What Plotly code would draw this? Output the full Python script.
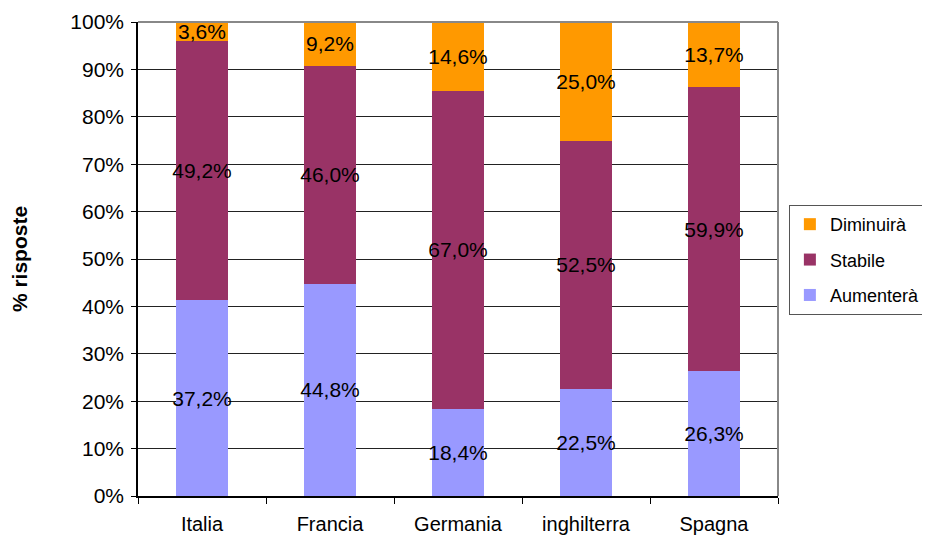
import plotly.graph_objects as go

categories = ["Italia", "Francia", "Germania", "inghilterra", "Spagna"]
aumentera = [37.2, 44.8, 18.4, 22.5, 26.3]
stabile = [49.2, 46.0, 67.0, 52.5, 59.9]
diminuira = [3.6, 9.2, 14.6, 25.0, 13.7]

series = [
    ("Aumenterà", aumentera, "#9999FF", 3),
    ("Stabile", stabile, "#993366", 2),
    ("Diminuirà", diminuira, "#FF9900", 1),
]

def fmt(v):
    return f"{v:.1f}%".replace(".", ",")

FONT = "Liberation Sans, Arial, sans-serif"

fig = go.Figure()
for name, vals, color, rank in series:
    fig.add_trace(go.Bar(
        name=name, x=categories, y=vals,
        marker=dict(color=color, line=dict(width=0)),
        text=[fmt(v) for v in vals],
        textposition="inside", insidetextanchor="middle", textangle=0,
        textfont=dict(family=FONT, size=21, color="black"),
        legendgroup=name, legendrank=rank,
        hoverinfo="skip",
    ))

fig.update_layout(
    width=930, height=535,
    barmode="stack", barnorm="percent", bargap=0.59,
    plot_bgcolor="white", paper_bgcolor="white",
    margin=dict(l=130, r=160, t=14, b=47, autoexpand=False),
    font=dict(family=FONT, size=20, color="black"),
    uniformtext=dict(minsize=21, mode="show"),
    legend=dict(
        x=1.017, y=0.614, xanchor="left", yanchor="top",
        traceorder="grouped", tracegroupgap=9,
        bordercolor="#555555", borderwidth=1,
        font=dict(family=FONT, size=18),
        itemwidth=30,
    ),
    showlegend=True,
)
fig.update_xaxes(
    automargin=False,
    showline=True, linecolor="black", linewidth=1.5,
    ticks="outside", tickson="boundaries", ticklen=6, tickcolor="black",
    ticklabelstandoff=9,
    showgrid=False,
    tickfont=dict(size=20),
)
fig.update_yaxes(
    automargin=False,
    range=[0, 100], dtick=10, ticksuffix="%",
    showline=True, linecolor="black", linewidth=1.5,
    ticks="outside", ticklen=5, tickcolor="black",
    ticklabelstandoff=3,
    showgrid=True, gridcolor="#222222", gridwidth=1,
    tickfont=dict(size=21),
    title=dict(text="<b>% risposte</b>", font=dict(size=21), standoff=38),
)
fig.add_shape(type="line", xref="paper", yref="paper", x0=0, x1=1, y0=1, y1=1,
              line=dict(color="#888888", width=2), layer="above")
fig.add_shape(type="line", xref="paper", yref="paper", x0=1, x1=1, y0=0, y1=1,
              line=dict(color="#888888", width=2), layer="above")

fig.write_html("out.html")
